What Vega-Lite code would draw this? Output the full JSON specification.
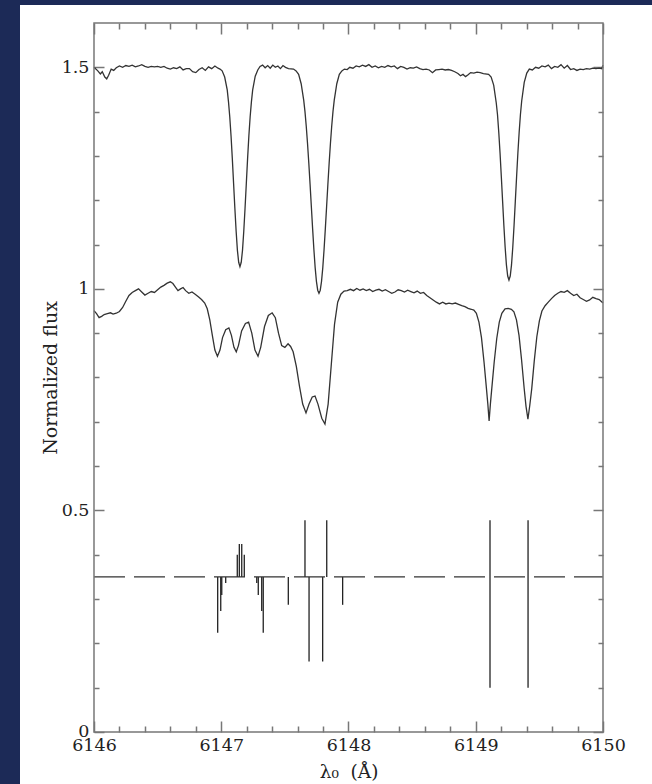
{
  "$schema": "https://vega.github.io/schema/vega-lite/v6.json",
  "width": 632,
  "height": 779,
  "autosize": {"type": "none"},
  "padding": {"left": 20, "top": 5, "right": 0, "bottom": 0},
  "background": "#1c2a57",
  "config": {
    "view": {"fill": "white", "stroke": null},
    "axis": {
      "domain": false, "grid": false, "tickColor": "#777", "tickWidth": 1.5,
      "labelFont": "DejaVu Serif", "labelFontSize": 17.5, "labelColor": "#222",
      "titleFont": "DejaVu Serif", "titleFontWeight": "normal", "titleColor": "#222"
    }
  },
  "datasets": {
    "top": [
      {"x":6146.000,"f":1.500},{"x":6146.030,"f":1.492},{"x":6146.050,"f":1.485},{"x":6146.065,"f":1.490},
      {"x":6146.085,"f":1.478},{"x":6146.100,"f":1.474},{"x":6146.115,"f":1.482},{"x":6146.135,"f":1.496},
      {"x":6146.155,"f":1.493},{"x":6146.175,"f":1.499},{"x":6146.200,"f":1.503},{"x":6146.225,"f":1.500},
      {"x":6146.250,"f":1.504},{"x":6146.275,"f":1.502},{"x":6146.300,"f":1.505},{"x":6146.325,"f":1.501},
      {"x":6146.350,"f":1.503},{"x":6146.375,"f":1.506},{"x":6146.400,"f":1.502},{"x":6146.425,"f":1.500},
      {"x":6146.450,"f":1.502},{"x":6146.475,"f":1.501},{"x":6146.500,"f":1.502},{"x":6146.525,"f":1.500},
      {"x":6146.550,"f":1.502},{"x":6146.575,"f":1.498},{"x":6146.600,"f":1.496},{"x":6146.625,"f":1.499},
      {"x":6146.650,"f":1.497},{"x":6146.675,"f":1.501},{"x":6146.700,"f":1.494},{"x":6146.725,"f":1.497},
      {"x":6146.750,"f":1.497},{"x":6146.775,"f":1.490},{"x":6146.800,"f":1.488},{"x":6146.825,"f":1.495},
      {"x":6146.850,"f":1.499},{"x":6146.875,"f":1.493},{"x":6146.900,"f":1.501},{"x":6146.925,"f":1.497},
      {"x":6146.950,"f":1.503},{"x":6146.975,"f":1.498},{"x":6146.990,"f":1.496},{"x":6147.007,"f":1.492},
      {"x":6147.027,"f":1.478},{"x":6147.047,"f":1.449},{"x":6147.057,"f":1.422},{"x":6147.067,"f":1.388},
      {"x":6147.077,"f":1.345},{"x":6147.087,"f":1.294},{"x":6147.097,"f":1.238},{"x":6147.107,"f":1.182},
      {"x":6147.117,"f":1.130},{"x":6147.127,"f":1.087},{"x":6147.137,"f":1.060},{"x":6147.147,"f":1.050},
      {"x":6147.157,"f":1.060},{"x":6147.167,"f":1.087},{"x":6147.177,"f":1.130},{"x":6147.187,"f":1.182},
      {"x":6147.197,"f":1.238},{"x":6147.207,"f":1.294},{"x":6147.217,"f":1.345},{"x":6147.227,"f":1.388},
      {"x":6147.237,"f":1.422},{"x":6147.247,"f":1.449},{"x":6147.267,"f":1.480},{"x":6147.287,"f":1.494},
      {"x":6147.305,"f":1.502},{"x":6147.325,"f":1.505},{"x":6147.345,"f":1.499},{"x":6147.365,"f":1.504},
      {"x":6147.385,"f":1.498},{"x":6147.405,"f":1.505},{"x":6147.425,"f":1.500},{"x":6147.445,"f":1.503},
      {"x":6147.465,"f":1.497},{"x":6147.485,"f":1.504},{"x":6147.505,"f":1.500},{"x":6147.528,"f":1.497},
      {"x":6147.568,"f":1.496},{"x":6147.588,"f":1.492},{"x":6147.608,"f":1.484},{"x":6147.628,"f":1.463},
      {"x":6147.648,"f":1.426},{"x":6147.658,"f":1.400},{"x":6147.668,"f":1.367},{"x":6147.678,"f":1.328},
      {"x":6147.688,"f":1.284},{"x":6147.698,"f":1.236},{"x":6147.708,"f":1.186},{"x":6147.718,"f":1.136},
      {"x":6147.728,"f":1.089},{"x":6147.738,"f":1.048},{"x":6147.748,"f":1.017},{"x":6147.758,"f":0.997},
      {"x":6147.768,"f":0.990},{"x":6147.778,"f":0.997},{"x":6147.788,"f":1.017},{"x":6147.798,"f":1.048},
      {"x":6147.808,"f":1.089},{"x":6147.818,"f":1.136},{"x":6147.828,"f":1.186},{"x":6147.838,"f":1.236},
      {"x":6147.848,"f":1.284},{"x":6147.858,"f":1.328},{"x":6147.868,"f":1.367},{"x":6147.878,"f":1.400},
      {"x":6147.888,"f":1.426},{"x":6147.908,"f":1.463},{"x":6147.928,"f":1.484},{"x":6147.948,"f":1.492},
      {"x":6147.968,"f":1.496},{"x":6147.990,"f":1.495},{"x":6148.010,"f":1.500},{"x":6148.035,"f":1.498},
      {"x":6148.060,"f":1.503},{"x":6148.085,"f":1.501},{"x":6148.110,"f":1.505},{"x":6148.135,"f":1.502},
      {"x":6148.160,"f":1.506},{"x":6148.185,"f":1.500},{"x":6148.210,"f":1.503},{"x":6148.235,"f":1.499},
      {"x":6148.260,"f":1.502},{"x":6148.285,"f":1.500},{"x":6148.310,"f":1.504},{"x":6148.335,"f":1.501},
      {"x":6148.360,"f":1.503},{"x":6148.385,"f":1.497},{"x":6148.410,"f":1.502},{"x":6148.435,"f":1.500},
      {"x":6148.460,"f":1.496},{"x":6148.485,"f":1.499},{"x":6148.510,"f":1.498},{"x":6148.535,"f":1.501},
      {"x":6148.560,"f":1.497},{"x":6148.585,"f":1.495},{"x":6148.610,"f":1.496},{"x":6148.635,"f":1.494},
      {"x":6148.660,"f":1.488},{"x":6148.685,"f":1.494},{"x":6148.710,"f":1.495},{"x":6148.735,"f":1.496},
      {"x":6148.760,"f":1.494},{"x":6148.785,"f":1.495},{"x":6148.810,"f":1.493},{"x":6148.835,"f":1.490},
      {"x":6148.860,"f":1.486},{"x":6148.880,"f":1.481},{"x":6148.900,"f":1.484},{"x":6148.920,"f":1.479},
      {"x":6148.940,"f":1.483},{"x":6148.960,"f":1.488},{"x":6148.985,"f":1.487},{"x":6149.010,"f":1.489},
      {"x":6149.035,"f":1.488},{"x":6149.060,"f":1.486},{"x":6149.101,"f":1.484},{"x":6149.121,"f":1.478},
      {"x":6149.141,"f":1.460},{"x":6149.161,"f":1.420},{"x":6149.171,"f":1.393},{"x":6149.181,"f":1.353},
      {"x":6149.191,"f":1.306},{"x":6149.201,"f":1.253},{"x":6149.211,"f":1.198},{"x":6149.221,"f":1.143},
      {"x":6149.231,"f":1.094},{"x":6149.241,"f":1.054},{"x":6149.251,"f":1.029},{"x":6149.261,"f":1.020},
      {"x":6149.271,"f":1.029},{"x":6149.281,"f":1.054},{"x":6149.291,"f":1.094},{"x":6149.301,"f":1.143},
      {"x":6149.311,"f":1.198},{"x":6149.321,"f":1.253},{"x":6149.331,"f":1.306},{"x":6149.341,"f":1.353},
      {"x":6149.351,"f":1.393},{"x":6149.361,"f":1.424},{"x":6149.381,"f":1.466},{"x":6149.401,"f":1.487},
      {"x":6149.421,"f":1.496},{"x":6149.445,"f":1.494},{"x":6149.470,"f":1.500},{"x":6149.495,"f":1.498},
      {"x":6149.520,"f":1.503},{"x":6149.545,"f":1.501},{"x":6149.570,"f":1.505},{"x":6149.595,"f":1.497},
      {"x":6149.620,"f":1.502},{"x":6149.645,"f":1.500},{"x":6149.670,"f":1.506},{"x":6149.695,"f":1.498},
      {"x":6149.720,"f":1.504},{"x":6149.745,"f":1.495},{"x":6149.770,"f":1.497},{"x":6149.795,"f":1.493},
      {"x":6149.820,"f":1.496},{"x":6149.845,"f":1.495},{"x":6149.870,"f":1.497},{"x":6149.895,"f":1.496},
      {"x":6149.920,"f":1.498},{"x":6149.945,"f":1.497},{"x":6149.970,"f":1.498},{"x":6149.990,"f":1.497},
      {"x":6150.000,"f":1.505}
    ],
    "mid": [
      {"x":6146.000,"f":0.951},{"x":6146.020,"f":0.944},{"x":6146.040,"f":0.935},{"x":6146.060,"f":0.938},
      {"x":6146.080,"f":0.942},{"x":6146.105,"f":0.944},{"x":6146.130,"f":0.946},{"x":6146.150,"f":0.943},
      {"x":6146.175,"f":0.945},{"x":6146.200,"f":0.949},{"x":6146.225,"f":0.958},{"x":6146.250,"f":0.972},
      {"x":6146.275,"f":0.985},{"x":6146.300,"f":0.992},{"x":6146.325,"f":0.996},{"x":6146.350,"f":1.000},
      {"x":6146.375,"f":0.993},{"x":6146.400,"f":0.986},{"x":6146.425,"f":0.990},{"x":6146.450,"f":0.994},
      {"x":6146.475,"f":0.992},{"x":6146.500,"f":0.998},{"x":6146.525,"f":1.004},{"x":6146.550,"f":1.008},
      {"x":6146.575,"f":1.013},{"x":6146.600,"f":1.016},{"x":6146.620,"f":1.012},{"x":6146.640,"f":1.004},
      {"x":6146.660,"f":0.996},{"x":6146.680,"f":1.000},{"x":6146.700,"f":1.003},{"x":6146.720,"f":0.996},
      {"x":6146.745,"f":0.990},{"x":6146.770,"f":0.993},{"x":6146.795,"f":0.988},{"x":6146.820,"f":0.982},
      {"x":6146.845,"f":0.976},{"x":6146.870,"f":0.968},{"x":6146.890,"f":0.955},{"x":6146.910,"f":0.930},
      {"x":6146.930,"f":0.895},{"x":6146.950,"f":0.862},{"x":6146.970,"f":0.848},{"x":6146.990,"f":0.862},
      {"x":6147.010,"f":0.890},{"x":6147.035,"f":0.908},{"x":6147.060,"f":0.912},{"x":6147.080,"f":0.895},
      {"x":6147.100,"f":0.868},{"x":6147.118,"f":0.858},{"x":6147.135,"f":0.872},{"x":6147.160,"f":0.905},
      {"x":6147.190,"f":0.922},{"x":6147.215,"f":0.925},{"x":6147.240,"f":0.900},{"x":6147.265,"f":0.862},
      {"x":6147.289,"f":0.848},{"x":6147.310,"f":0.868},{"x":6147.340,"f":0.915},{"x":6147.370,"f":0.940},
      {"x":6147.400,"f":0.946},{"x":6147.425,"f":0.935},{"x":6147.450,"f":0.900},{"x":6147.475,"f":0.872},
      {"x":6147.500,"f":0.868},{"x":6147.525,"f":0.876},{"x":6147.545,"f":0.870},{"x":6147.565,"f":0.858},
      {"x":6147.590,"f":0.825},{"x":6147.615,"f":0.780},{"x":6147.640,"f":0.740},{"x":6147.666,"f":0.720},
      {"x":6147.690,"f":0.740},{"x":6147.715,"f":0.756},{"x":6147.737,"f":0.758},{"x":6147.760,"f":0.740},
      {"x":6147.790,"f":0.708},{"x":6147.815,"f":0.695},{"x":6147.840,"f":0.740},{"x":6147.865,"f":0.830},
      {"x":6147.890,"f":0.920},{"x":6147.915,"f":0.970},{"x":6147.940,"f":0.988},{"x":6147.965,"f":0.995},
      {"x":6147.990,"f":0.996},{"x":6148.015,"f":0.999},{"x":6148.040,"f":0.996},{"x":6148.065,"f":1.001},
      {"x":6148.090,"f":0.997},{"x":6148.115,"f":1.000},{"x":6148.140,"f":0.996},{"x":6148.165,"f":0.999},
      {"x":6148.190,"f":0.994},{"x":6148.215,"f":0.997},{"x":6148.240,"f":0.999},{"x":6148.265,"f":0.995},
      {"x":6148.290,"f":0.998},{"x":6148.315,"f":0.994},{"x":6148.340,"f":0.990},{"x":6148.365,"f":0.993},
      {"x":6148.390,"f":0.998},{"x":6148.415,"f":0.996},{"x":6148.440,"f":0.993},{"x":6148.465,"f":0.997},
      {"x":6148.490,"f":0.994},{"x":6148.515,"f":0.991},{"x":6148.540,"f":0.995},{"x":6148.565,"f":0.990},
      {"x":6148.590,"f":0.992},{"x":6148.615,"f":0.985},{"x":6148.640,"f":0.980},{"x":6148.665,"f":0.975},
      {"x":6148.690,"f":0.970},{"x":6148.715,"f":0.966},{"x":6148.740,"f":0.970},{"x":6148.765,"f":0.966},
      {"x":6148.790,"f":0.968},{"x":6148.815,"f":0.966},{"x":6148.840,"f":0.968},{"x":6148.865,"f":0.965},
      {"x":6148.890,"f":0.962},{"x":6148.915,"f":0.960},{"x":6148.940,"f":0.956},{"x":6148.965,"f":0.954},
      {"x":6148.985,"f":0.952},{"x":6149.005,"f":0.945},{"x":6149.025,"f":0.925},{"x":6149.045,"f":0.890},
      {"x":6149.065,"f":0.835},{"x":6149.085,"f":0.772},{"x":6149.095,"f":0.740},{"x":6149.105,"f":0.702},
      {"x":6149.115,"f":0.740},{"x":6149.125,"f":0.772},{"x":6149.145,"f":0.835},{"x":6149.165,"f":0.888},
      {"x":6149.185,"f":0.925},{"x":6149.205,"f":0.945},{"x":6149.230,"f":0.955},{"x":6149.255,"f":0.956},
      {"x":6149.280,"f":0.954},{"x":6149.300,"f":0.948},{"x":6149.320,"f":0.930},{"x":6149.340,"f":0.895},
      {"x":6149.360,"f":0.840},{"x":6149.380,"f":0.777},{"x":6149.395,"f":0.735},{"x":6149.410,"f":0.706},
      {"x":6149.425,"f":0.738},{"x":6149.440,"f":0.775},{"x":6149.460,"f":0.838},{"x":6149.480,"f":0.892},
      {"x":6149.500,"f":0.928},{"x":6149.520,"f":0.950},{"x":6149.545,"f":0.962},{"x":6149.570,"f":0.970},
      {"x":6149.595,"f":0.978},{"x":6149.620,"f":0.985},{"x":6149.645,"f":0.990},{"x":6149.670,"f":0.994},
      {"x":6149.695,"f":0.992},{"x":6149.720,"f":0.996},{"x":6149.745,"f":0.990},{"x":6149.770,"f":0.985},
      {"x":6149.795,"f":0.988},{"x":6149.820,"f":0.980},{"x":6149.845,"f":0.976},{"x":6149.870,"f":0.972},
      {"x":6149.895,"f":0.975},{"x":6149.920,"f":0.981},{"x":6149.945,"f":0.978},{"x":6149.970,"f":0.976},
      {"x":6150.000,"f":0.968}
    ],
    "bars": [
      {"x":6146.972,"lo":0.224,"hi":0.35},{"x":6146.996,"lo":0.273,"hi":0.35},{"x":6147.004,"lo":0.309,"hi":0.35},
      {"x":6147.035,"lo":0.336,"hi":0.35},{"x":6147.126,"lo":0.35,"hi":0.40},{"x":6147.142,"lo":0.35,"hi":0.424},
      {"x":6147.161,"lo":0.35,"hi":0.424},{"x":6147.181,"lo":0.35,"hi":0.40},{"x":6147.279,"lo":0.336,"hi":0.35},
      {"x":6147.291,"lo":0.309,"hi":0.35},{"x":6147.318,"lo":0.273,"hi":0.35},{"x":6147.330,"lo":0.224,"hi":0.35},
      {"x":6147.527,"lo":0.287,"hi":0.35},{"x":6147.658,"lo":0.35,"hi":0.478},{"x":6147.690,"lo":0.159,"hi":0.35},
      {"x":6147.797,"lo":0.159,"hi":0.35},{"x":6147.829,"lo":0.35,"hi":0.478},{"x":6147.954,"lo":0.287,"hi":0.35},
      {"x":6149.112,"lo":0.10,"hi":0.478},{"x":6149.411,"lo":0.10,"hi":0.478}
    ],
    "base": [{"x1":6146,"x2":6150,"y":0.35}]
  },
  "layer": [
    {
      "data": {"name": "top"},
      "mark": {"type": "line", "color": "#333", "strokeWidth": 1.3},
      "encoding": {
        "x": {"field": "x", "type": "quantitative",
          "scale": {"domain": [6145.41847, 6150.38507], "nice": false, "zero": false},
          "axis": {"orient": "bottom", "offset": -52, "values": [6146, 6147, 6148, 6149, 6150], "format": "d",
            "tickSize": -11, "labelPadding": 15, "title": "λ₀\u00a0\u00a0(Å)", "titleFontSize": 18.5, "titlePadding": 9, "titleX": 328.5}},
        "y": {"field": "f", "type": "quantitative",
          "scale": {"domain": [-0.11735, 1.64062], "nice": false, "zero": false},
          "axis": {"orient": "left", "offset": -74, "values": [0, 0.5, 1, 1.5], "format": "~g",
            "tickSize": -10, "labelPadding": 15, "title": "Normalized flux", "titleFontSize": 19, "titlePadding": 1, "titleY": 372.5}}
      }
    },
    {
      "data": {"name": "mid"},
      "mark": {"type": "line", "color": "#333", "strokeWidth": 1.3},
      "encoding": {
        "x": {"field": "x", "type": "quantitative",
          "scale": {"domain": [6145.41847, 6150.38507], "nice": false, "zero": false},
          "axis": {"orient": "bottom", "offset": -52, "values": [6146.2,6146.4,6146.6,6146.8,6147.2,6147.4,6147.6,6147.8,6148.2,6148.4,6148.6,6148.8,6149.2,6149.4,6149.6,6149.8],
            "labels": false, "tickSize": -6, "title": null}},
        "y": {"field": "f", "type": "quantitative",
          "scale": {"domain": [-0.11735, 1.64062], "nice": false, "zero": false},
          "axis": {"orient": "left", "offset": -74, "values": [0.1,0.2,0.3,0.4,0.6,0.7,0.8,0.9,1.1,1.2,1.3,1.4],
            "labels": false, "tickSize": -5, "title": null}}
      }
    },
    {
      "data": {"name": "bars"},
      "mark": {"type": "rule", "color": "#222", "strokeWidth": 1.3},
      "encoding": {
        "x": {"field": "x", "type": "quantitative",
          "scale": {"domain": [6145.41847, 6150.38507], "nice": false, "zero": false},
          "axis": {"orient": "top", "offset": -18, "values": [6146, 6147, 6148, 6149, 6150], "labels": false, "tickSize": -11, "title": null}},
        "y": {"field": "lo", "type": "quantitative",
          "scale": {"domain": [-0.11735, 1.64062], "nice": false, "zero": false},
          "axis": {"orient": "right", "offset": -49, "values": [0, 0.5, 1, 1.5], "labels": false, "tickSize": -10, "title": null}},
        "y2": {"field": "hi"}
      }
    },
    {
      "data": {"name": "base"},
      "mark": {"type": "rule", "color": "#333", "strokeWidth": 1.4, "strokeDash": [31, 9]},
      "encoding": {
        "x": {"field": "x1", "type": "quantitative",
          "scale": {"domain": [6145.41847, 6150.38507], "nice": false, "zero": false},
          "axis": {"orient": "top", "offset": -18, "values": [6146.2,6146.4,6146.6,6146.8,6147.2,6147.4,6147.6,6147.8,6148.2,6148.4,6148.6,6148.8,6149.2,6149.4,6149.6,6149.8],
            "labels": false, "tickSize": -6, "title": null}},
        "x2": {"field": "x2"},
        "y": {"field": "y", "type": "quantitative",
          "scale": {"domain": [-0.11735, 1.64062], "nice": false, "zero": false},
          "axis": {"orient": "right", "offset": -49, "values": [0.1,0.2,0.3,0.4,0.6,0.7,0.8,0.9,1.1,1.2,1.3,1.4],
            "labels": false, "tickSize": -5, "title": null}}
      }
    },
    {
      "data": {"name": "base"},
      "mark": {"type": "rect", "filled": false, "stroke": "#777", "strokeWidth": 1.5},
      "encoding": {
        "x": {"datum": 6146, "type": "quantitative", "axis": null},
        "x2": {"datum": 6150},
        "y": {"datum": 0, "type": "quantitative", "axis": null},
        "y2": {"datum": 1.6}
      }
    }
  ],
  "resolve": {"axis": {"x": "independent", "y": "independent"}}
}
